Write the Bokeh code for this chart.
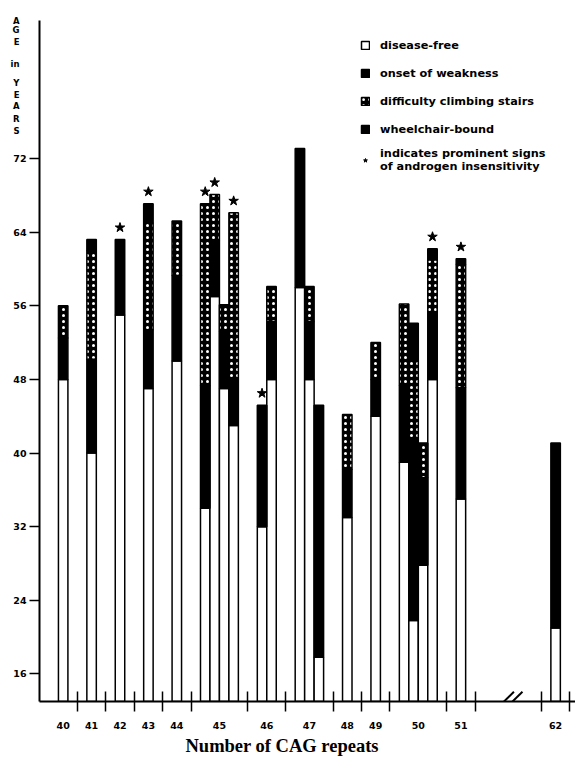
from bokeh.plotting import figure
from bokeh.models import (FixedTicker, Legend, LegendItem, ColumnDataSource,
                          Range1d, Arrow, LinearAxis, Title)
from bokeh.embed import file_html
from bokeh.resources import INLINE

# ---------------- data (one entry per patient / bar) ----------------
cag_repeats = [40, 41, 42, 43, 44, 45, 45, 45, 45, 46, 46, 47, 47, 47, 48, 49,
               50, 50, 50, 50, 51, 62]
age_onset_weakness = [48, 40, 55, 47, 50, 34, 57, 47, 43, 32, 48, 58, 48, 17.8,
                      33, 44, 39, 21.8, 27.8, 48, 35, 21]
age_stair_difficulty = [52.5, 50.2, None, 53.4, 59.3, 47.3, 63.1, 53.2, 48, None,
                        54.3, None, 54.3, None, 38.2, 48, 47.3, 41.6, 37.3, 55.2,
                        47.1, None]
age_wheelchair = [None, 62, None, 65, None, None, None, None, None, None, None,
                  None, None, None, None, None, None, 50, None, 61, 60.5, None]
current_age = [56, 63.2, 63.2, 67.1, 65.2, 67.1, 68.1, 56.1, 66.1, 45.2, 58.1,
               73.1, 58.1, 45.2, 44.2, 52, 56.2, 54.1, 41.1, 62.2, 61.1, 41.1]
androgen_insensitivity = [False, False, True, True, False, True, True, False, True,
                          True, False, False, False, False, False, False, False,
                          False, False, True, True, False]
y_ticks = [16, 24, 32, 40, 48, 56, 64, 72]
legend_labels = ["disease-free", "onset of weakness", "difficulty climbing stairs",
                 "wheelchair-bound",
                 "indicates prominent signs\nof androgen insensitivity"]
x_title = "Number of CAG repeats"
y_title_letters = ["A", "G", "E", "in", "Y", "E", "A", "R", "S"]

# ---------------- layout constants ----------------
Y0, Y1 = 13, 87
GROUP_GAP = 2
BREAK_GAP = 7
X0, X1 = -2, 54.6
FONT = "DejaVu Sans"
# vertical anchor (in the age scale) of each stacked letter of the y title
y_title_pos = [86.95, 85.93, 84.64, 82.28, 80.24, 78.95, 77.67, 76.27, 74.98]

# bar slot positions (bars of the same CAG group are adjacent)
slots = []
pos, prev = 0, None
for c in cag_repeats:
    if prev is not None:
        if c == prev:
            pos += 1
        else:
            pos += 1 + GROUP_GAP + (BREAK_GAP if c - prev > 1 else 0)
    slots.append(pos)
    prev = c
xc = [s + 0.5 for s in slots]

groups = []
for c, s in zip(cag_repeats, slots):
    if groups and groups[-1][0] == c:
        groups[-1][2] = s + 1
    else:
        groups.append([c, s, s + 1])
centers = [(g[1] + g[2]) / 2 for g in groups]
separators = [g[2] + 1 for g in groups]
for i in range(1, len(groups)):
    if groups[i][0] - groups[i - 1][0] > 1:
        separators.append(groups[i][1] - 1)
separators = sorted(separators)

# segments
white = dict(x=[], top=[], bottom=[])
black1 = dict(x=[], top=[], bottom=[])
check = dict(x=[], top=[], bottom=[])
black2 = dict(x=[], top=[], bottom=[])
star = dict(x=[], y=[])
for x, on, st, wh, age, ai in zip(xc, age_onset_weakness, age_stair_difficulty,
                                  age_wheelchair, current_age, androgen_insensitivity):
    white["x"].append(x); white["bottom"].append(Y0); white["top"].append(on)
    black1["x"].append(x); black1["bottom"].append(on)
    black1["top"].append(st if st is not None else age)
    if st is not None:
        check["x"].append(x); check["bottom"].append(st)
        check["top"].append(wh if wh is not None else age)
    if wh is not None:
        black2["x"].append(x); black2["bottom"].append(wh); black2["top"].append(age)
    if ai:
        star["x"].append(x); star["y"].append(age + 1.3)

p = figure(width=575, height=757, x_range=Range1d(X0, X1), y_range=Range1d(Y0, Y1),
           output_backend="svg", toolbar_location=None,
           min_border_left=39, min_border_right=0, min_border_top=20,
           min_border_bottom=47)
p.grid.visible = False
p.outline_line_color = None
p.background_fill_color = "white"
p.border_fill_color = "white"

common = dict(width=1, line_color="black", line_width=1.5)
r_white = p.vbar(source=ColumnDataSource(white), x="x", top="top", bottom="bottom",
                 fill_color="white", **common)
r_b1 = p.vbar(source=ColumnDataSource(black1), x="x", top="top", bottom="bottom",
              fill_color="black", **common)
r_chk = p.vbar(source=ColumnDataSource(check), x="x", top="top", bottom="bottom",
               fill_color="black", hatch_pattern="dot", hatch_color="white",
               hatch_scale=6, hatch_weight=1.3, **common)
r_b2 = p.vbar(source=ColumnDataSource(black2), x="x", top="top", bottom="bottom",
              fill_color="black", **common)
r_star = p.scatter(source=ColumnDataSource(star), x="x", y="y", marker="star",
                   size=10, fill_color="black", line_color="black")

# x axis: group labels at group centres, tick marks between groups
xa = p.xaxis[0]
xa.ticker = FixedTicker(ticks=centers, minor_ticks=separators)
ov = {}
for g, c in zip(groups, centers):
    ov[float(c)] = str(g[0])
    ov[("%g" % c)] = str(g[0])
xa.major_label_overrides = ov
xa.major_tick_line_color = None
xa.major_tick_in = 0
xa.major_tick_out = 0
xa.minor_tick_in = 10
xa.minor_tick_out = 10
xa.minor_tick_line_width = 1.5
xa.minor_tick_line_color = "black"
xa.axis_line_width = 2
xa.major_label_standoff = 10
xa.major_label_text_font = FONT
xa.major_label_text_font_style = "bold"
xa.major_label_text_font_size = "9.5px"
xa.major_label_text_color = "black"

ya = p.yaxis[0]
ya.ticker = FixedTicker(ticks=y_ticks, minor_ticks=[])
ya.major_tick_in = 0
ya.major_tick_out = 10
ya.major_tick_line_width = 1.5
ya.minor_tick_line_color = None
ya.axis_line_width = 2
ya.major_label_standoff = 3
ya.major_label_text_font = FONT
ya.major_label_text_font_style = "bold"
ya.major_label_text_font_size = "9.5px"
ya.major_label_text_color = "black"

# stacked y title as a label-only axis outside the main one
ov2 = {}
for t, yy in zip(y_title_letters, y_title_pos):
    ov2[float(yy)] = t
    ov2["%g" % yy] = t
ytitle = LinearAxis(ticker=FixedTicker(ticks=y_title_pos, minor_ticks=[]),
                    major_label_overrides=ov2, axis_line_color=None,
                    major_tick_line_color=None, minor_tick_line_color=None,
                    major_tick_in=0, major_tick_out=0, major_label_standoff=-9,
                    major_label_text_font=FONT, major_label_text_font_style="bold",
                    major_label_text_font_size="8.5px", major_label_text_color="black")
p.add_layout(ytitle, "left")

# x title
p.add_layout(Title(text=x_title, align="left", offset=146, standoff=4,
                   text_font="Liberation Serif", text_font_style="bold",
                   text_font_size="18.5px", text_color="black"), "below")

# axis break mark
gap_mid = (separators[-3] + separators[-2]) / 2
for dx in (-0.45, 0.45):
    p.add_layout(Arrow(end=None, x_start=gap_mid + dx - 1.05, y_start=Y0 - 1.05,
                       x_end=gap_mid + dx + 1.05, y_end=Y0 + 1.05,
                       line_color="black", line_width=2))

legend = Legend(items=[LegendItem(label=legend_labels[0], renderers=[r_white]),
                       LegendItem(label=legend_labels[1], renderers=[r_b1]),
                       LegendItem(label=legend_labels[2], renderers=[r_chk]),
                       LegendItem(label=legend_labels[3], renderers=[r_b2]),
                       LegendItem(label=legend_labels[4], renderers=[r_star])],
                location=(321, 528), margin=0, padding=0,
                border_line_color=None, background_fill_alpha=0,
                glyph_width=10, glyph_height=10, label_standoff=10,
                spacing=8, label_height=20,
                label_text_font=FONT, label_text_font_style="bold",
                label_text_font_size="11.3px", label_text_color="black")
p.add_layout(legend)

open("out.html", "w").write(file_html(p, INLINE))
